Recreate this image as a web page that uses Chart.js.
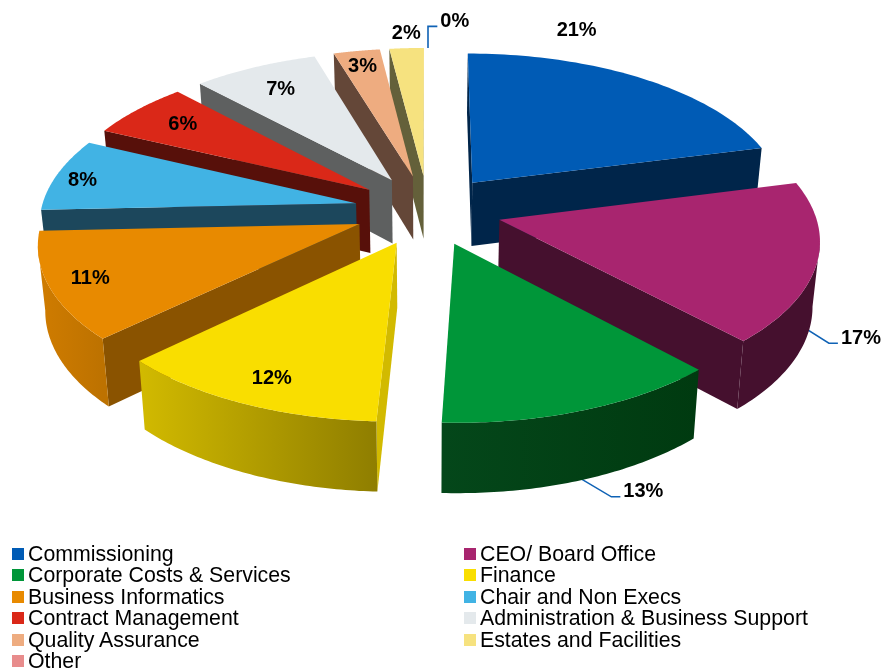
<!DOCTYPE html>
<html>
<head>
<meta charset="utf-8">
<script src="https://cdn.jsdelivr.net/npm/chart.js@4/dist/chart.umd.min.js"></script>
<style>
  body { margin: 0; background: #fff; }
  #wrap { position: relative; width: 884px; height: 668px; overflow: hidden; }
  #legend { position: absolute; left: 0; top: 0; width: 884px; height: 668px; font: 21.3px "Liberation Sans", Arial, sans-serif; color: #000; }
  #legend div { position: absolute; white-space: nowrap; line-height: 22px; }
  #legend i { position: absolute; left: -16px; top: 5px; width: 12px; height: 12px; }
</style>
</head>
<body>
<div id="wrap">
  <canvas id="chart" width="884" height="668"></canvas>
  <div id="legend"></div>
</div>
<script>
const categories = ['Commissioning', 'CEO/ Board Office', 'Corporate Costs & Services', 'Finance', 'Business Informatics',
  'Chair and Non Execs', 'Contract Management', 'Administration & Business Support', 'Quality Assurance', 'Estates and Facilities', 'Other'];
// the labels show them rounded
const shares = [21, 17, 12.7, 12.2, 11.4, 7.7, 6, 7.3, 2.7, 2, 0];

const topColors = ['#005bb5', '#a8256f', '#009639', '#f9de00', '#e88a00', '#41b3e4', '#da2818', '#e4e9ec', '#eeac80', '#f6e27f', '#e88c8c'];
const sideColors = ['#00254a', '#45102e', '#003d14', '#d2ba00', '#8a5300', '#1c475c', '#57100a', '#5e6060', '#644738', '#64603a', '#5c3030'];
const rimColors = [['#00254a', '#00254a'], ['#45102e', '#45102e'], ['#04471a', '#003a10'], ['#d2ba00', '#8f7e00'], ['#d07c00', '#bd7200'],
  ['#1c475c', '#1c475c'], ['#57100a', '#57100a'], ['#5e6060', '#5e6060'], ['#644738', '#644738'], ['#64603a', '#64603a'], ['#5c3030', '#5c3030']];

// label placement: fraction of the radius, degrees away from the slice middle
const labelSpots = [[1.265, -19.2], [1.25, 18.6], [1.41, 0.4], [0.855, -0.9], [0.873, 0], [0.907, -1.3], [0.8, 0.4], [0.79, -0.2], [0.87, -0.2], [1.13, 0.3], [1.24, 4.6]];
// leader lines: slice index -> degrees off the middle, how far down the wall it starts
const leaders = { 1: [19, 0], 2: [2, 0.85], 10: [0, 0] };

// look of the tilted pie
const view = { cx: 428, cy: 210, h: 315, v: 150, k: 0.115, depth: 64, taper: 0.019 };

function project(u, v, z) {
  const s = 1 / (1 - view.k * v);
  const t = s * (1 - view.taper * z);
  return { x: view.cx + u * view.h * t, y: view.cy + v * view.v * t + z * view.depth * s };
}

// point on a slice, in units of the pie radius, from the arc's own geometry
function slicePoint(arc, angle, r, z) {
  const mid = (arc.startAngle + arc.endAngle) / 2;
  const d = arc.options.offset / arc.outerRadius;
  return project(d * Math.cos(mid) + r * Math.cos(angle), d * Math.sin(mid) + r * Math.sin(angle), z);
}

function fillPoly(ctx, pts, fill) {
  ctx.beginPath();
  pts.forEach((p, i) => (i ? ctx.lineTo(p.x, p.y) : ctx.moveTo(p.x, p.y)));
  ctx.closePath();
  ctx.fillStyle = fill;
  ctx.fill();
}

function drawSlice(ctx, arc, i) {
  const steps = 60;
  const sweep = arc.endAngle - arc.startAngle;
  const rim = [];
  for (let s = 0; s <= steps; s++) {
    rim.push(slicePoint(arc, arc.startAngle + sweep * s / steps, 1, 0));
  }
  const apex = slicePoint(arc, 0, 0, 0);
  const apexLow = slicePoint(arc, 0, 0, 1);

  // radial walls, only when facing the viewer
  if (rim[0].x < apex.x) {
    fillPoly(ctx, [apex, rim[0], slicePoint(arc, arc.startAngle, 1, 1), apexLow], sideColors[i]);
  }
  if (apex.x < rim[steps].x) {
    fillPoly(ctx, [rim[steps], apex, apexLow, slicePoint(arc, arc.endAngle, 1, 1)], sideColors[i]);
  }

  // outer wall: the run of rim that faces the viewer
  const upper = [], lower = [];
  for (let s = 0; s < steps; s++) {
    if (rim[s + 1].x < rim[s].x) {
      if (!upper.length) {
        upper.push(rim[s]);
        lower.push(slicePoint(arc, arc.startAngle + sweep * s / steps, 1, 1));
      }
      upper.push(rim[s + 1]);
      lower.push(slicePoint(arc, arc.startAngle + sweep * (s + 1) / steps, 1, 1));
    }
  }
  if (upper.length) {
    const grad = ctx.createLinearGradient(upper[upper.length - 1].x, 0, upper[0].x, 0);
    grad.addColorStop(0, rimColors[i][0]);
    grad.addColorStop(1, rimColors[i][1]);
    fillPoly(ctx, upper.concat(lower.reverse()), grad);
  }

  fillPoly(ctx, [apex].concat(rim), topColors[i]);
}

function labelText(i) {
  return Math.round(shares[i]) + '%';
}

function labelPoint(arc, i) {
  const mid = (arc.startAngle + arc.endAngle) / 2;
  return slicePoint(arc, mid + labelSpots[i][1] * Math.PI / 180, labelSpots[i][0], 0);
}

const tiltedPie = {
  id: 'tiltedPie',
  beforeDatasetDraw(chart) {
    const { ctx } = chart;
    const arcs = chart.getDatasetMeta(0).data;

    // leaders go under the slices so they come out from behind the wall
    ctx.strokeStyle = '#0f62b5';
    ctx.lineWidth = 1.6;
    ctx.font = 'bold 20px "Liberation Sans", Arial, sans-serif';
    Object.keys(leaders).forEach((k) => {
      const i = Number(k);
      const arc = arcs[i];
      const mid = (arc.startAngle + arc.endAngle) / 2;
      const from = slicePoint(arc, mid + leaders[i][0] * Math.PI / 180, 1, leaders[i][1]);
      const spot = labelPoint(arc, i);
      const endX = spot.x - ctx.measureText(labelText(i)).width / 2 - 3;
      ctx.beginPath();
      ctx.moveTo(from.x, from.y);
      ctx.lineTo(i === 10 ? from.x : endX - 9, spot.y + 5);
      ctx.lineTo(endX, spot.y + 5);
      ctx.stroke();
    });

    arcs.map((arc, i) => ({ arc, i }))
      .filter((o) => shares[o.i] > 0)
      .sort((a, b) => Math.sin((a.arc.startAngle + a.arc.endAngle) / 2) - Math.sin((b.arc.startAngle + b.arc.endAngle) / 2))
      .forEach((o) => drawSlice(ctx, o.arc, o.i));
    return false;
  },
  afterDatasetsDraw(chart) {
    const { ctx } = chart;
    const arcs = chart.getDatasetMeta(0).data;
    ctx.font = 'bold 20px "Liberation Sans", Arial, sans-serif';
    ctx.fillStyle = '#000';
    ctx.textAlign = 'center';
    ctx.textBaseline = 'middle';
    arcs.forEach((arc, i) => {
      const p = labelPoint(arc, i);
      ctx.fillText(labelText(i), p.x, p.y);
    });
  },
};

new Chart(document.getElementById('chart'), {
  type: 'pie',
  data: {
    labels: categories,
    datasets: [{ data: shares, backgroundColor: topColors, offset: 70, borderWidth: 0 }],
  },
  options: {
    responsive: false,
    animation: false,
    plugins: { legend: { display: false }, tooltip: { enabled: false } },
  },
  plugins: [tiltedPie],
});

// two column legend under the pie
const legendBox = document.getElementById('legend');
categories.forEach((name, i) => {
  const row = document.createElement('div');
  row.style.left = (i % 2 ? 480 : 28) + 'px';
  row.style.top = (543 + Math.floor(i / 2) * 21.4) + 'px';
  row.textContent = name;
  const box = document.createElement('i');
  box.style.background = topColors[i];
  row.appendChild(box);
  legendBox.appendChild(row);
});
</script>
</body>
</html>
